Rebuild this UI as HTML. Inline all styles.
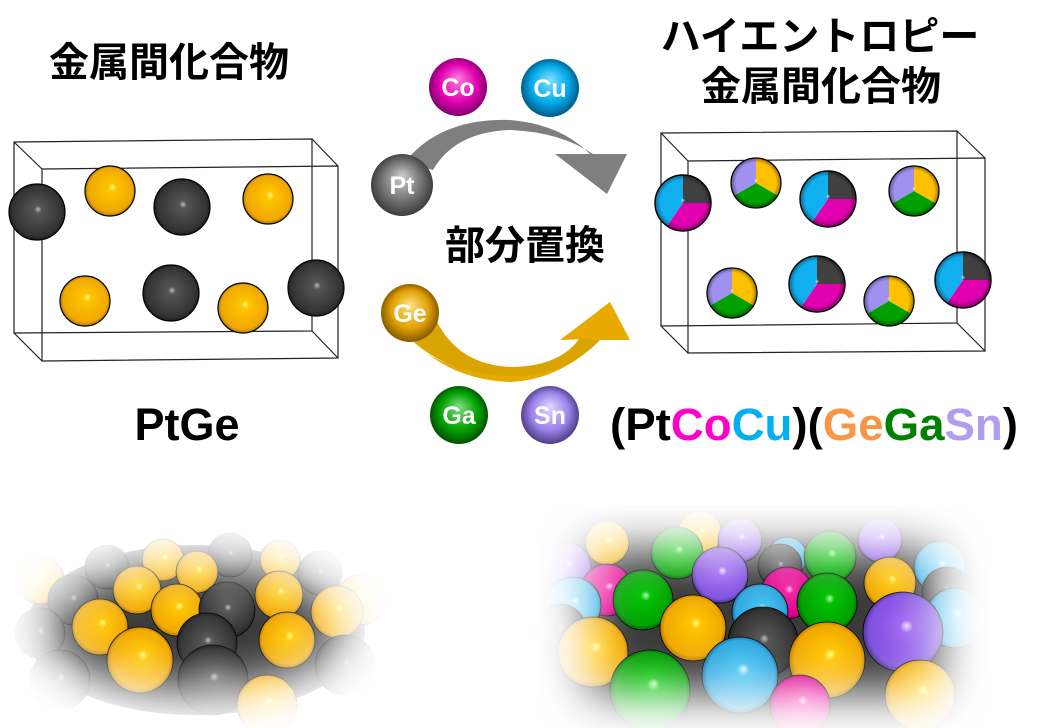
<!DOCTYPE html>
<html><head><meta charset="utf-8"><style>
html,body{margin:0;padding:0;background:#fff;}
svg{display:block}
text{font-family:"Liberation Sans","Noto Sans CJK JP",sans-serif;font-weight:bold;}
.jp{font-family:"Noto Sans CJK JP","Liberation Sans",sans-serif;font-weight:bold;}
</style></head><body>
<svg width="1047" height="728" viewBox="0 0 1047 728" xmlns="http://www.w3.org/2000/svg">
<defs>
<radialGradient id="gD" cx="0.5" cy="0.5" r="0.55" fx="0.52" fy="0.45"><stop offset="0" stop-color="#bbb"/><stop offset="0.12" stop-color="#555"/><stop offset="0.8" stop-color="#333"/><stop offset="1" stop-color="#111"/></radialGradient>
<radialGradient id="gY" cx="0.5" cy="0.5" r="0.55" fx="0.55" fy="0.42"><stop offset="0" stop-color="#ffff80"/><stop offset="0.15" stop-color="#ffc400"/><stop offset="0.8" stop-color="#f0a800"/><stop offset="1" stop-color="#8a5a00"/></radialGradient>
<radialGradient id="gCo" cx="0.5" cy="0.5" r="0.55" fx="0.5" fy="0.35"><stop offset="0" stop-color="#ff80e0"/><stop offset="0.6" stop-color="#e000b0"/><stop offset="1" stop-color="#700060"/></radialGradient>
<radialGradient id="gCu" cx="0.5" cy="0.5" r="0.55" fx="0.5" fy="0.35"><stop offset="0" stop-color="#80e0ff"/><stop offset="0.6" stop-color="#00a8e8"/><stop offset="1" stop-color="#004a70"/></radialGradient>
<radialGradient id="gPt" cx="0.5" cy="0.5" r="0.55" fx="0.5" fy="0.35"><stop offset="0" stop-color="#ccc"/><stop offset="0.6" stop-color="#707070"/><stop offset="1" stop-color="#303030"/></radialGradient>
<radialGradient id="gGe" cx="0.5" cy="0.5" r="0.55" fx="0.5" fy="0.35"><stop offset="0" stop-color="#ffe080"/><stop offset="0.6" stop-color="#e0a000"/><stop offset="1" stop-color="#704800"/></radialGradient>
<radialGradient id="gGa" cx="0.5" cy="0.5" r="0.55" fx="0.5" fy="0.35"><stop offset="0" stop-color="#80e080"/><stop offset="0.6" stop-color="#00a000"/><stop offset="1" stop-color="#004000"/></radialGradient>
<radialGradient id="gSn" cx="0.5" cy="0.5" r="0.55" fx="0.5" fy="0.35"><stop offset="0" stop-color="#e0d8ff"/><stop offset="0.6" stop-color="#9a80e8"/><stop offset="1" stop-color="#403070"/></radialGradient>
<radialGradient id="gG" cx="0.5" cy="0.5" r="0.55" fx="0.55" fy="0.42"><stop offset="0" stop-color="#b0ffb0"/><stop offset="0.15" stop-color="#00c000"/><stop offset="0.8" stop-color="#00a000"/><stop offset="1" stop-color="#004000"/></radialGradient>
<radialGradient id="gP" cx="0.5" cy="0.5" r="0.55" fx="0.55" fy="0.42"><stop offset="0" stop-color="#f0e0ff"/><stop offset="0.15" stop-color="#9a60f0"/><stop offset="0.8" stop-color="#8050e0"/><stop offset="1" stop-color="#302060"/></radialGradient>
<radialGradient id="gC" cx="0.5" cy="0.5" r="0.55" fx="0.55" fy="0.42"><stop offset="0" stop-color="#e0f8ff"/><stop offset="0.15" stop-color="#40c0f0"/><stop offset="0.8" stop-color="#30a8e0"/><stop offset="1" stop-color="#104060"/></radialGradient>
<radialGradient id="gM" cx="0.5" cy="0.5" r="0.55" fx="0.55" fy="0.42"><stop offset="0" stop-color="#ffc0f0"/><stop offset="0.15" stop-color="#f020a0"/><stop offset="0.8" stop-color="#e00090"/><stop offset="1" stop-color="#600040"/></radialGradient>
<radialGradient id="shade" cx="0.5" cy="0.5" r="0.5" fx="0.5" fy="0.45"><stop offset="0" stop-color="#fff" stop-opacity="0.7"/><stop offset="0.08" stop-color="#fff" stop-opacity="0"/><stop offset="0.8" stop-color="#000" stop-opacity="0"/><stop offset="1" stop-color="#000" stop-opacity="0.4"/></radialGradient>
<filter id="bl" x="-30%" y="-50%" width="160%" height="200%"><feGaussianBlur stdDeviation="24"/></filter>
<mask id="mL" maskUnits="userSpaceOnUse" x="0" y="470" width="470" height="258"><ellipse cx="195" cy="628" rx="145" ry="62" fill="#fff" filter="url(#bl)"/></mask>
<mask id="mR" maskUnits="userSpaceOnUse" x="490" y="470" width="557" height="258"><rect x="590" y="552" width="345" height="140" rx="10" fill="#fff" filter="url(#bl)"/></mask>
<g id="pieA"><path d="M0,0 L0,-1 A1,1 0 0 1 1,0 Z" fill="#404040"/><path d="M0,0 L1,0 A1,1 0 0 1 -0.57,0.82 Z" fill="#e000b0"/><path d="M0,0 L-0.57,0.82 A1,1 0 0 1 0,-1 Z" fill="#10b0f0"/><circle r="1" fill="url(#shade)"/><circle r="1" fill="none" stroke="#000" stroke-width="0.05"/></g>
<g id="pieB"><path d="M0,0 L0,-1 A1,1 0 0 1 0.866,0.5 Z" fill="#ffc000"/><path d="M0,0 L0.866,0.5 A1,1 0 0 1 -0.866,0.5 Z" fill="#00a000"/><path d="M0,0 L-0.866,0.5 A1,1 0 0 1 0,-1 Z" fill="#a090f0"/><circle r="1" fill="url(#shade)"/><circle r="1" fill="none" stroke="#000" stroke-width="0.05"/></g>
</defs>

<!-- titles -->
<text class="jp" x="169" y="76" font-size="40" text-anchor="middle">金属間化合物</text>
<text class="jp" x="820" y="50" font-size="40" text-anchor="middle">ハイエントロピー</text>
<text class="jp" x="821" y="100" font-size="40" text-anchor="middle">金属間化合物</text>
<text class="jp" x="525" y="259" font-size="40" text-anchor="middle">部分置換</text>
<text x="187" y="440" font-size="45" text-anchor="middle">PtGe</text>
<text x="610" y="440" font-size="45" textLength="408" lengthAdjust="spacingAndGlyphs"><tspan fill="#000">(Pt</tspan><tspan fill="#ff00cc">Co</tspan><tspan fill="#00b0f0">Cu</tspan><tspan fill="#000">)(</tspan><tspan fill="#f79646">Ge</tspan><tspan fill="#008000">Ga</tspan><tspan fill="#b19cf0">Sn</tspan><tspan fill="#000">)</tspan></text>

<!-- left box -->
<g fill="none" stroke="#222" stroke-width="1.2">
<polygon points="14,142 312,139 312,331 14,333"/>
<polygon points="42,169 338,166 338,358 42,361"/>
<line x1="14" y1="142" x2="42" y2="169"/><line x1="312" y1="139" x2="338" y2="166"/><line x1="14" y1="333" x2="42" y2="361"/><line x1="312" y1="331" x2="338" y2="358"/>
</g>
<g stroke="#000" stroke-width="1.2">
<circle cx="37" cy="212" r="28" fill="url(#gD)"/>
<circle cx="110" cy="191" r="25" fill="url(#gY)"/>
<circle cx="182" cy="207" r="28" fill="url(#gD)"/>
<circle cx="268" cy="199" r="25" fill="url(#gY)"/>
<circle cx="85" cy="301" r="25" fill="url(#gY)"/>
<circle cx="171" cy="293" r="28" fill="url(#gD)"/>
<circle cx="243" cy="308" r="25" fill="url(#gY)"/>
<circle cx="316" cy="288" r="28" fill="url(#gD)"/>
</g>

<!-- right box -->
<g fill="none" stroke="#222" stroke-width="1.2">
<polygon points="661,133 957,131 957,323 661,326"/>
<polygon points="688,161 985,158 985,351 688,353"/>
<line x1="661" y1="133" x2="688" y2="161"/><line x1="957" y1="131" x2="985" y2="158"/><line x1="661" y1="326" x2="688" y2="353"/><line x1="957" y1="323" x2="985" y2="351"/>
</g>
<use href="#pieA" transform="translate(683,203) scale(28)"/>
<use href="#pieB" transform="translate(756,183) scale(25)"/>
<use href="#pieA" transform="translate(828,199) scale(28)"/>
<use href="#pieB" transform="translate(914,191) scale(25)"/>
<use href="#pieB" transform="translate(732,293) scale(25)"/>
<use href="#pieA" transform="translate(817,284) scale(28)"/>
<use href="#pieB" transform="translate(889,301) scale(25)"/>
<use href="#pieA" transform="translate(963,280) scale(28)"/>

<!-- arrows -->
<path d="M405,162 Q440,118 510,120 Q560,124 590,154 L555,154 L607,194 L627,154 L593,154 Q560,132 510,130 Q455,132 433,170 Z" fill="#7f7f7f"/>
<path d="M410,338 Q440,374 513,373 Q565,370 590,339 L560,340 L610,302 L630,340 L600,340 Q560,380 510,382 Q450,380 410,338 Z" fill="#e8aa00"/>
<path d="M437,322 Q460,366 513,367 Q560,366 580,338 L600,340 Q565,376 513,376 Q448,376 410,338 Z" fill="#d9a300"/>

<!-- element balls -->
<g font-size="25" fill="#fff" text-anchor="middle">
<circle cx="458" cy="87" r="29" fill="url(#gCo)"/><text x="458" y="96" fill="#fff">Co</text>
<circle cx="550" cy="88" r="29" fill="url(#gCu)"/><text x="550" y="97" fill="#fff">Cu</text>
<circle cx="402" cy="185" r="31" fill="url(#gPt)"/><text x="402" y="194" fill="#fff">Pt</text>
<circle cx="410" cy="313" r="29" fill="url(#gGe)"/><text x="410" y="322" fill="#fff">Ge</text>
<circle cx="459" cy="415" r="29" fill="url(#gGa)"/><text x="459" y="424" fill="#fff">Ga</text>
<circle cx="550" cy="415" r="29" fill="url(#gSn)"/><text x="550" y="424" fill="#fff">Sn</text>
</g>

<!-- bottom left surface -->
<g mask="url(#mL)" stroke="#000" stroke-width="0.8">
<ellipse cx="195" cy="630" rx="170" ry="85" fill="#3a3a3a" stroke="none"/>
<circle cx="107" cy="567" r="22" fill="url(#gD)"/>
<circle cx="163" cy="560" r="21" fill="url(#gY)"/>
<circle cx="280" cy="560" r="20" fill="url(#gY)"/>
<circle cx="230" cy="555" r="22" fill="url(#gD)"/>
<circle cx="197" cy="572" r="21" fill="url(#gY)"/>
<circle cx="320" cy="573" r="22" fill="url(#gD)"/>
<circle cx="40" cy="580" r="24" fill="url(#gY)"/>
<circle cx="137" cy="590" r="24" fill="url(#gY)"/>
<circle cx="73" cy="600" r="25" fill="url(#gD)"/>
<circle cx="279" cy="595" r="24" fill="url(#gY)"/>
<circle cx="360" cy="600" r="25" fill="url(#gY)"/>
<circle cx="177" cy="610" r="26" fill="url(#gY)"/>
<circle cx="227" cy="610" r="28" fill="url(#gD)"/>
<circle cx="337" cy="612" r="26" fill="url(#gY)"/>
<circle cx="100" cy="627" r="28" fill="url(#gY)"/>
<circle cx="40" cy="633" r="25" fill="url(#gD)"/>
<circle cx="287" cy="640" r="28" fill="url(#gY)"/>
<circle cx="207" cy="643" r="30" fill="url(#gD)"/>
<circle cx="345" cy="665" r="30" fill="url(#gD)"/>
<circle cx="140" cy="660" r="33" fill="url(#gY)"/>
<circle cx="60" cy="680" r="30" fill="url(#gD)"/>
<circle cx="213" cy="680" r="35" fill="url(#gD)"/>
<circle cx="267" cy="705" r="30" fill="url(#gY)"/>
</g>

<!-- bottom right surface -->
<g mask="url(#mR)" stroke="#000" stroke-width="0.8">
<rect x="540" y="505" width="450" height="223" fill="#3a3a3a" stroke="none"/>
<circle cx="607" cy="543" r="22" fill="url(#gY)"/>
<circle cx="700" cy="533" r="22" fill="url(#gY)"/>
<circle cx="740" cy="540" r="22" fill="url(#gP)"/>
<circle cx="880" cy="540" r="22" fill="url(#gP)"/>
<circle cx="787" cy="557" r="20" fill="url(#gC)"/>
<circle cx="780" cy="566" r="22" fill="url(#gD)"/>
<circle cx="567" cy="567" r="24" fill="url(#gP)"/>
<circle cx="940" cy="567" r="26" fill="url(#gC)"/>
<circle cx="677" cy="553" r="26" fill="url(#gG)"/>
<circle cx="830" cy="557" r="26" fill="url(#gG)"/>
<circle cx="720" cy="575" r="28" fill="url(#gP)"/>
<circle cx="890" cy="583" r="26" fill="url(#gY)"/>
<circle cx="947" cy="592" r="25" fill="url(#gD)"/>
<circle cx="607" cy="590" r="26" fill="url(#gM)"/>
<circle cx="787" cy="593" r="26" fill="url(#gM)"/>
<circle cx="573" cy="605" r="28" fill="url(#gC)"/>
<circle cx="643" cy="600" r="30" fill="url(#gG)"/>
<circle cx="827" cy="603" r="30" fill="url(#gG)"/>
<circle cx="760" cy="612" r="28" fill="url(#gC)"/>
<circle cx="955" cy="618" r="30" fill="url(#gC)"/>
<circle cx="560" cy="630" r="26" fill="url(#gD)"/>
<circle cx="693" cy="628" r="33" fill="url(#gY)"/>
<circle cx="903" cy="632" r="40" fill="url(#gP)"/>
<circle cx="763" cy="642" r="35" fill="url(#gD)"/>
<circle cx="593" cy="652" r="35" fill="url(#gY)"/>
<circle cx="827" cy="660" r="38" fill="url(#gY)"/>
<circle cx="740" cy="675" r="38" fill="url(#gC)"/>
<circle cx="650" cy="690" r="40" fill="url(#gG)"/>
<circle cx="800" cy="705" r="30" fill="url(#gM)"/>
<circle cx="920" cy="695" r="35" fill="url(#gY)"/>
</g>
</svg>
</body></html>
